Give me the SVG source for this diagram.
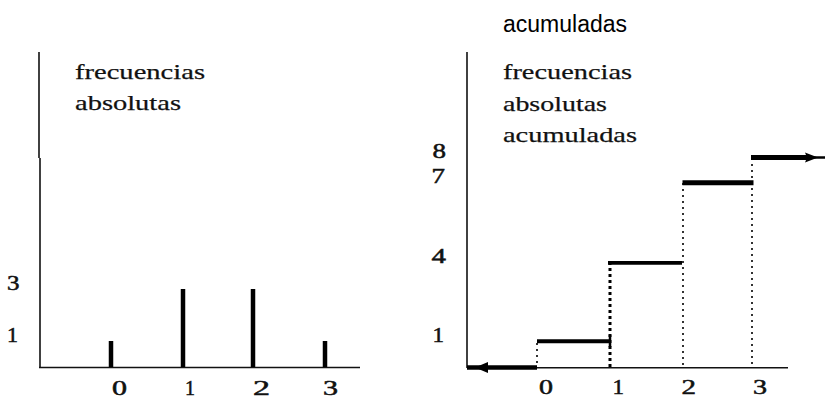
<svg xmlns="http://www.w3.org/2000/svg" width="833" height="416" viewBox="0 0 833 416">
<style>
.axis{stroke:#111;stroke-width:1.6;fill:none}
.bar{stroke:#000;stroke-width:4.5;fill:none}
.step{stroke:#000;fill:none}
.dot{stroke:#000;stroke-width:1.6;stroke-dasharray:2 4;fill:none}
.lbl{font-family:"Liberation Serif","Times New Roman",serif;font-size:22px;fill:#111;stroke:#111;stroke-width:0.25}
.num{font-family:"Liberation Serif","Times New Roman",serif;font-size:20px;fill:#111;stroke:#111;stroke-width:0.5}
.title{font-family:"Liberation Sans",Arial,sans-serif;font-size:23px;fill:#000}
</style>
<rect width="833" height="416" fill="#fff"/>
<g id="chart-absolutas">
  <line class="axis" x1="39" y1="52" x2="39" y2="158"/>
  <line class="axis" x1="40" y1="158" x2="40" y2="368"/>
  <line class="axis" x1="39" y1="367.5" x2="360" y2="367.5"/>
  <line class="bar" x1="111" y1="341" x2="111" y2="367"/>
  <line class="bar" x1="183" y1="289" x2="183" y2="367"/>
  <line class="bar" x1="253" y1="289" x2="253" y2="367"/>
  <line class="bar" x1="325" y1="341" x2="325" y2="367"/>
  <text class="lbl" x="75" y="79" textLength="130" lengthAdjust="spacingAndGlyphs">frecuencias</text>
  <text class="lbl" x="75" y="110" textLength="106" lengthAdjust="spacingAndGlyphs">absolutas</text>
  <text class="num" x="7" y="290" textLength="12.5" lengthAdjust="spacingAndGlyphs">3</text>
  <text class="num" x="7" y="342" textLength="11" lengthAdjust="spacingAndGlyphs">1</text>
  <text class="num" x="112" y="395" textLength="15" lengthAdjust="spacingAndGlyphs">0</text>
  <text class="num" x="185" y="395" textLength="10" lengthAdjust="spacingAndGlyphs">1</text>
  <text class="num" x="253" y="395" textLength="17" lengthAdjust="spacingAndGlyphs">2</text>
  <text class="num" x="323" y="395" textLength="15" lengthAdjust="spacingAndGlyphs">3</text>
</g>
<g id="chart-acumuladas">
  <text class="title" x="503" y="32">acumuladas</text>
  <line class="axis" x1="467" y1="52" x2="467" y2="368"/>
  <line class="axis" x1="467" y1="367.7" x2="788" y2="367.7"/>
  <text class="lbl" x="503" y="79" textLength="129" lengthAdjust="spacingAndGlyphs">frecuencias</text>
  <text class="lbl" x="503" y="110.5" textLength="104" lengthAdjust="spacingAndGlyphs">absolutas</text>
  <text class="lbl" x="503" y="142" textLength="134" lengthAdjust="spacingAndGlyphs">acumuladas</text>
  <text class="num" x="432.5" y="158" textLength="13.5" lengthAdjust="spacingAndGlyphs">8</text>
  <text class="num" x="431.5" y="183" textLength="13.5" lengthAdjust="spacingAndGlyphs">7</text>
  <text class="num" x="431.5" y="263" textLength="14.5" lengthAdjust="spacingAndGlyphs">4</text>
  <text class="num" x="432.5" y="342" textLength="11.5" lengthAdjust="spacingAndGlyphs">1</text>
  <text class="num" x="539" y="394" textLength="14" lengthAdjust="spacingAndGlyphs">0</text>
  <text class="num" x="612.5" y="394" textLength="11.5" lengthAdjust="spacingAndGlyphs">1</text>
  <text class="num" x="681.5" y="394" textLength="14.5" lengthAdjust="spacingAndGlyphs">2</text>
  <text class="num" x="753" y="394" textLength="14" lengthAdjust="spacingAndGlyphs">3</text>
  <g id="connectors">
    <line class="dot" x1="537" y1="343" x2="537" y2="367"/>
    <line class="dot" x1="610" y1="262" x2="610" y2="367" style="stroke-width:3;stroke-dasharray:3 3"/>
    <line class="dot" x1="683" y1="183" x2="683" y2="367"/>
    <line class="dot" x1="752" y1="158" x2="752" y2="367"/>
    <line class="step" x1="467" y1="367.5" x2="537" y2="367.5" stroke-width="4.5"/>
    <polygon points="475,367.5 488,362 488,373" fill="#000"/>
    <line class="step" x1="537" y1="341.3" x2="610" y2="341.3" stroke-width="4"/>
    <line class="step" x1="610" y1="335" x2="610" y2="347" stroke-width="2.5"/>
    <line class="step" x1="608" y1="262.8" x2="682" y2="262.8" stroke-width="3.8"/>
    <line class="step" x1="682.5" y1="182.7" x2="753.5" y2="182.7" stroke-width="5"/>
    <line class="step" x1="751" y1="157.5" x2="808" y2="157.5" stroke-width="5"/>
    <line class="step" x1="806" y1="157.5" x2="825" y2="157.5" stroke-width="2.5"/>
    <polygon points="818,157.5 805,152.5 807,157.5 805,162.5" fill="#000"/>
  </g>
</g>
</svg>
